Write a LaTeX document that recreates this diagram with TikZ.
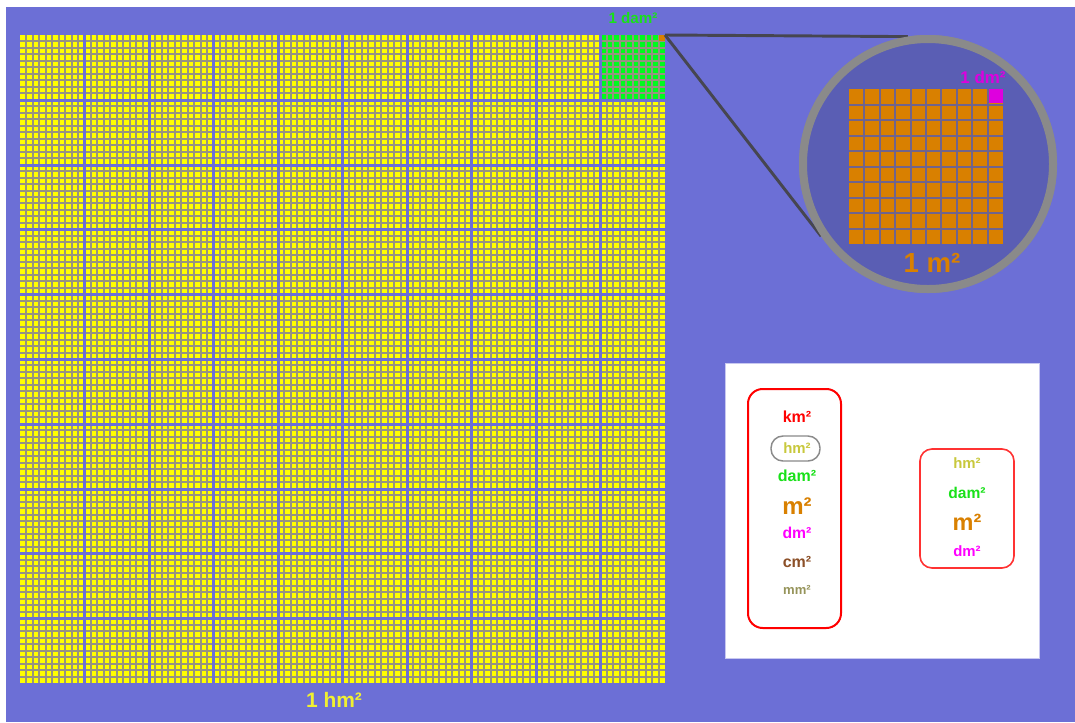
\documentclass[tikz,border=0pt]{standalone}
\usepackage{fontspec}
\setmainfont{Liberation Sans}
\definecolor{bgblue}{RGB}{108,111,214}
\definecolor{innerblue}{RGB}{90,94,180}
\definecolor{ringgray}{RGB}{138,138,138}
\definecolor{gridgray}{RGB}{150,148,128}
\definecolor{gapcol}{RGB}{112,100,140}
\definecolor{cellyellow}{RGB}{255,255,0}
\definecolor{cellgreen}{RGB}{0,250,30}
\definecolor{orangeu}{RGB}{217,128,0}
\definecolor{magentau}{RGB}{222,0,222}
\definecolor{textgreen}{RGB}{25,225,25}
\definecolor{hmyellow}{RGB}{240,240,50}
\definecolor{hmolive}{RGB}{200,200,60}
\definecolor{magtext}{RGB}{255,0,255}
\definecolor{cmbrown}{RGB}{140,80,40}
\definecolor{mmolive}{RGB}{150,148,90}
\definecolor{linegray}{RGB}{70,70,80}
\definecolor{boxborder}{RGB}{200,200,240}
\begin{document}
\begin{tikzpicture}[x=0.75pt,y=-0.75pt,
  lbl/.style={font=\bfseries\fontsize{#1}{#1}\selectfont, inner sep=0pt},
  redbox/.style={draw=red, line width=1.5pt, rounded corners=11pt, inner sep=0pt},
  zoomline/.style={draw=linegray, line width=2.2pt}]
% background
\useasboundingbox (0,0) rectangle (1075,722);
\fill[white] (0,0) rectangle (1075,722);
\fill[bgblue] (6,7) rectangle (1075,722);
% big grid
\fill[cellyellow] (20,35) rectangle (665,683);
\fill[cellgreen] (601,35) rectangle (665,99);
\foreach \i in {1,...,99} {
  \pgfmathtruncatemacro\xx{round(20+\i*6.45)}
  \pgfmathtruncatemacro\yy{round(35+\i*6.48)}
  \draw[gridgray, line width=1.5pt] (\xx,35) -- (\xx,683);
  \draw[gridgray, line width=1.5pt] (20,\yy) -- (665,\yy);
}
\foreach \i in {10,20,...,90} {
  \pgfmathtruncatemacro\xx{round(20+\i*6.45)}
  \pgfmathtruncatemacro\yy{round(35+\i*6.48)}
  \draw[bgblue, line width=2.25pt] (\xx+0.5,35) -- (\xx+0.5,683);
  \draw[bgblue, line width=2.25pt] (20,\yy+0.5) -- (665,\yy+0.5);
}
\node[fill=orangeu, minimum width=4.5pt, minimum height=4.5pt, inner sep=0pt, anchor=north east] (ocell) at (665,35) {};
\node[lbl=11.4, text=textgreen] (damlbl) at (633,18) {1 dam²};
\node[lbl=15.7, text=hmyellow] (hmlbl) at (334,700) {1 hm²};
% zoom circle
\node[circle, draw=ringgray, line width=6pt, fill=innerblue, minimum size=187.5pt, inner sep=0pt] (zoomc) at (928,164) {};
\draw[zoomline] (ocell.north east) -- (zoomc.99);
\draw[zoomline] (ocell.north east) -- (zoomc.214);
\node[circle, draw=ringgray, line width=6pt, fill=innerblue, minimum size=187.5pt, inner sep=0pt] at (928,164) {};
\fill[orangeu] (849,89) rectangle (1003,244);
\node[fill=magentau, minimum width=10.5pt, minimum height=10.5pt, inner sep=0pt, anchor=north east] (dmcell) at (1003,89) {};
\foreach \i in {1,...,9} {
  \pgfmathtruncatemacro\xx{round(849+\i*15.4)}
  \pgfmathtruncatemacro\yy{round(89+\i*15.5)}
  \draw[gapcol, line width=1.5pt] (\xx,89) -- (\xx,244);
  \draw[gapcol, line width=1.5pt] (849,\yy) -- (1003,\yy);
}
\node[lbl=12.7, text=magentau] (dmlbl) at (983,77) {1 dm²};
\node[lbl=20.7, text=orangeu] (mlbl) at (932,263) {1 m²};
% legend panel
\node[fill=white, draw=boxborder, line width=0.6pt, minimum width=235.5pt, minimum height=221.25pt, inner sep=0pt, anchor=north west] (panel) at (725,363) {};
\node[redbox, minimum width=69.75pt, minimum height=179.25pt] (leftbox) at (794.5,508.5) {};
\node[redbox, draw={rgb,255:red,255;green,50;blue,50}, line width=1.2pt, minimum width=70.5pt, minimum height=89.25pt, rounded corners=9pt] (rightbox) at (967,508.5) {};
\node[draw=ringgray, line width=1.1pt, rounded corners=9pt, minimum width=36.75pt, minimum height=18.75pt, inner sep=0pt] (hmbox) at (795.5,448.5) {};
\node[lbl=12, text=red] (lkm) at (797,417) {km²};
\node[lbl=11.2, text=hmolive] (lhm) at (797,448) {hm²};
\node[lbl=12, text=textgreen] (ldam) at (797,476) {dam²};
\node[lbl=18, text=orangeu] (lm) at (797,506) {m²};
\node[lbl=11.8, text=magtext] (ldm) at (797,533) {dm²};
\node[lbl=12, text=cmbrown] (lcm) at (797,562) {cm²};
\node[lbl=9.8, text=mmolive] (lmm) at (797,590) {mm²};
\node[lbl=11.2, text=hmolive] (rhm) at (967,463) {hm²};
\node[lbl=11.7, text=textgreen] (rdam) at (967,493) {dam²};
\node[lbl=17.6, text=orangeu] (rm) at (967,522) {m²};
\node[lbl=11.2, text=magtext] (rdm) at (967,551) {dm²};
\end{tikzpicture}
\end{document}
